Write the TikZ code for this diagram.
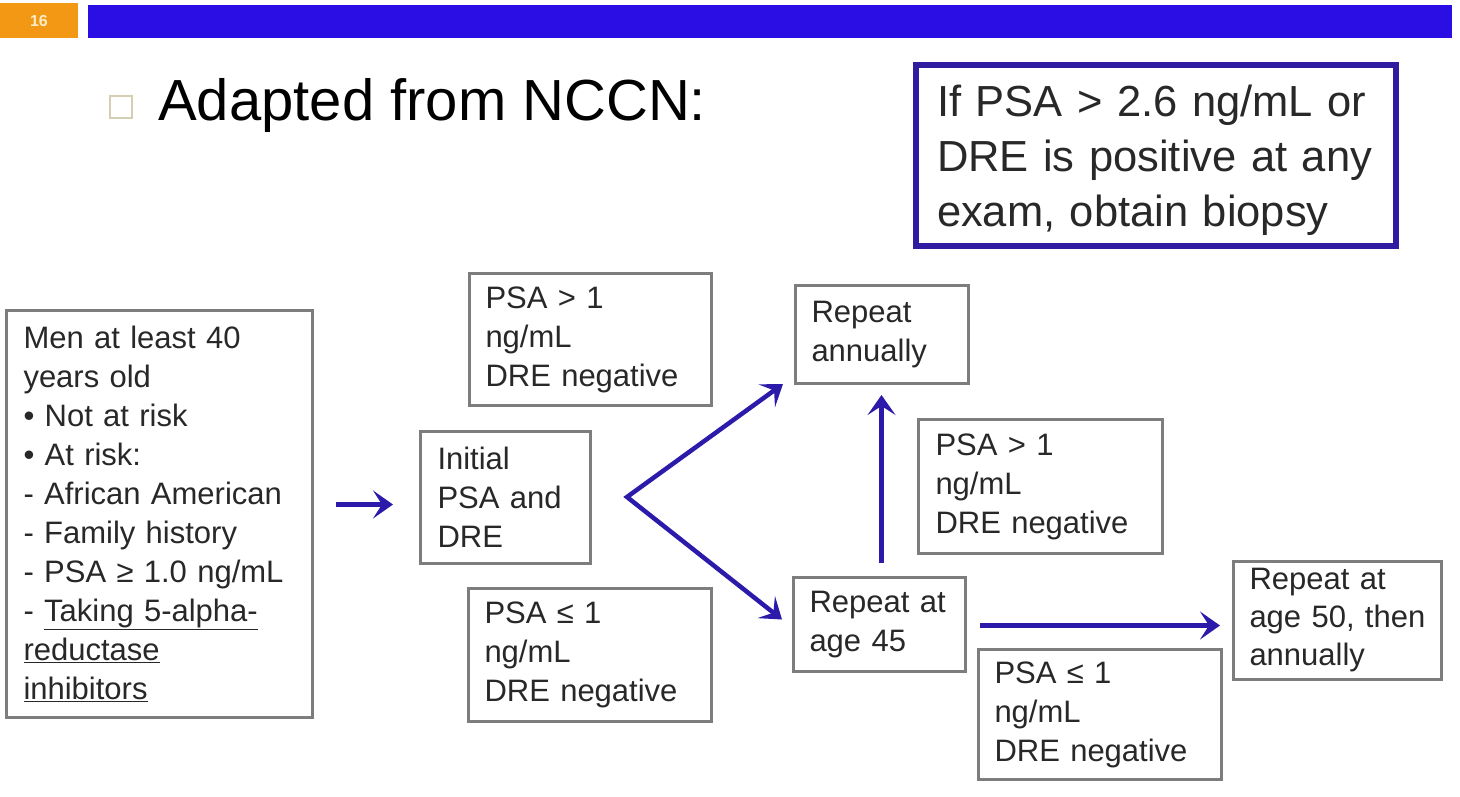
\documentclass[tikz,border=0pt]{standalone}
\usepackage{fontspec}
\setmainfont{Liberation Sans}
\usetikzlibrary{arrows.meta,calc}
\definecolor{barblue}{RGB}{42,14,228}
\definecolor{arrblue}{RGB}{44,26,170}
\definecolor{boxgray}{RGB}{125,125,125}
\definecolor{txt}{RGB}{40,40,40}
\definecolor{frameblue}{RGB}{48,28,160}
\definecolor{slideorange}{RGB}{242,152,20}
\definecolor{bulletbeige}{RGB}{212,206,178}
\definecolor{numtext}{RGB}{255,236,196}
\begin{document}
\begin{tikzpicture}[x=1pt,y=-1pt,
  box/.style={draw=boxgray, line width=3pt, anchor=north west, align=left,
    text=txt, font=\fontsize{31}{39}\selectfont, inner ysep=0pt, inner xsep=16pt},
  arr/.style={draw=arrblue, line width=4.5pt, -{Stealth[length=20pt,width=28pt,inset=9pt]}},
  arrboth/.style={draw=arrblue, line width=4.5pt, line join=miter,
    {Stealth[length=20pt,width=28pt,inset=9pt]}-{Stealth[length=20pt,width=28pt,inset=9pt]}},
]
\useasboundingbox[fill=white] (0,0) rectangle (1460,796);

% header
\fill[slideorange] (0,3) rectangle (78,38);
\node[font=\bfseries\fontsize{16}{16}\selectfont, text=numtext] (num) at (39,20.5) {16};
\fill[barblue] (88,5) rectangle (1452,38);

% title
\draw[bulletbeige, line width=2pt] (110,96) rectangle (132,118);
\node[anchor=base west, inner sep=0pt, font=\fontsize{58}{60}\selectfont] (title) at (158,120) {Adapted from NCCN:};

% biopsy box
\node[draw=frameblue, line width=6pt, anchor=north west, align=left, text=txt,
  text width=450pt, minimum height=181pt, inner xsep=15pt, inner ysep=0pt,
  font=\fontsize{43.5}{55}\selectfont] (biopsy) at (913,62)
  {\rule{0pt}{42pt}\hspace*{6pt}If PSA > 2.6 ng/mL or\\\hspace*{6pt}DRE is positive at any\\\hspace*{6pt}exam, obtain biopsy};

% boxes
\node[box, text width=272pt, minimum height=407pt, inner xsep=17pt] (men) at (5,309)
  {Men at least 40\\years old\\• Not at risk\\• At risk:\\- African American\\- Family history\\- PSA ≥ 1.0 ng/mL\\- \underline{Taking 5-alpha-}\\\underline{reductase}\\\underline{inhibitors}};

\node[box, text width=136pt, minimum height=132pt, inner xsep=17pt] (init) at (419,430)
  {Initial\\PSA and\\DRE};

\node[box, text width=210pt, minimum height=132pt] (hi1) at (468,272)
  {PSA > 1\\ng/mL\\DRE negative};

\node[box, text width=211pt, minimum height=133pt] (lo1) at (467,587)
  {PSA ≤ 1\\ng/mL\\DRE negative};

\node[box, text width=141pt, minimum height=98pt] (ann) at (794,284)
  {Repeat\\annually};

\node[box, text width=210pt, minimum height=134pt, inner xsep=17pt] (hi2) at (917,418)
  {PSA > 1\\ng/mL\\DRE negative};

\node[box, text width=140pt, minimum height=94pt] (r45) at (792,576)
  {Repeat at\\age 45};

\node[box, text width=176pt, minimum height=118pt, font=\fontsize{31}{38}\selectfont] (r50) at (1232,560)
  {Repeat at\\age 50, then\\annually};

\node[box, text width=211pt, minimum height=130pt] (lo2) at (977,648)
  {PSA ≤ 1\\ng/mL\\DRE negative};

% connectors
\coordinate (v) at (627,497);
\draw[arr] ($(men.east |- init.west)+(22,7)$) -- ($(init.west)+(-26,7)$);
\draw[arrboth] ($(ann.south west)+(-11,-1)$) -- (v) -- ($(r45.west)+(-10,-5)$);
\draw[arr] ($(r45.north)+(2,-13)$) -- ($(ann.south)+(-0.5,10)$);
\draw[arr] ($(r45.east)+(13,1)$) -- ($(r45.east -| r50.west)+(-12,1)$);
\end{tikzpicture}
\end{document}
